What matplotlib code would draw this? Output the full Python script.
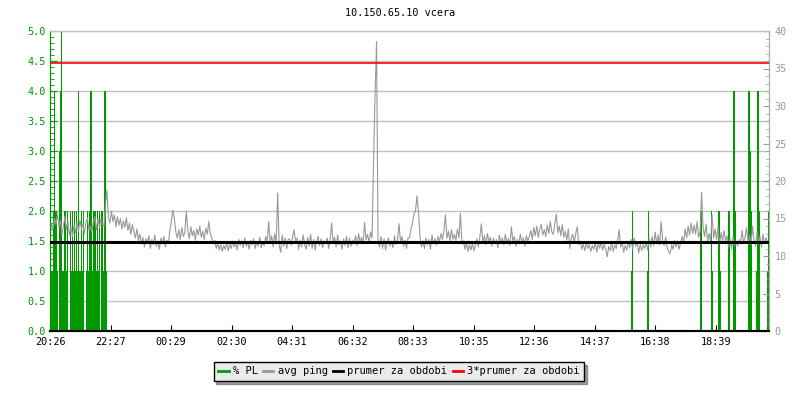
import numpy as np
import matplotlib
matplotlib.use("Agg")
import matplotlib.pyplot as plt
from matplotlib.lines import Line2D

plt.rcParams['font.family'] = ['DejaVu Sans Mono']
plt.rcParams['font.size'] = 7.3

## data ##############################################################
title = "10.150.65.10 vcera"

# x axis: minutes since 20:26, one day
tick_labels = ["20:26", "22:27", "00:29", "02:30", "04:31", "06:32",
               "08:33", "10:35", "12:36", "14:37", "16:38", "18:39"]
tick_step = 121.2
day_len = 1440

# avg ping [ms], one sample every 3 minutes
sample_step = 3
ping = [
    # 20:26 - 22:26
    13.0, 14.4, 13.6, 15.0, 14.2, 15.6, 13.9, 14.8, 12.9, 14.1,
    15.3, 13.5, 14.6, 12.8, 13.9, 12.6, 14.0, 13.1, 14.5, 13.3,
    14.8, 13.6, 14.2, 13.0, 14.5, 15.1, 13.4, 14.0, 13.2, 14.7,
    15.2, 13.5, 14.9, 13.8, 15.0, 14.2, 14.0, 16.8, 18.8, 15.2,
    14.4, 16.0, 14.6, 15.5, 13.9, 15.2, 14.1, 15.0, 13.6, 14.7,
    13.8, 15.1, 13.4, 14.4, 12.9, 14.2, 13.3, 12.4, 13.6, 12.1,
    12.9, 11.6, 12.5, 11.2, 12.3, 11.8, 12.7, 11.0, 12.2, 11.5,
    12.8, 11.3, 12.0, 10.9, 12.4, 11.6, 12.6, 11.2, 12.1, 11.7,
    # 00:26 - 02:26
    13.4, 14.6, 16.1, 15.0, 13.2, 12.4, 13.5, 12.2, 13.8, 12.6,
    13.1, 16.0, 13.4, 12.3, 13.9, 12.7, 13.4, 12.1, 13.6, 12.8,
    14.0, 12.5, 13.3, 12.2, 13.7, 12.9, 14.6, 13.0, 12.4, 11.6,
    12.1, 11.0, 11.7, 10.8, 11.5, 10.6, 11.4, 10.9, 11.8, 10.7,
    11.6, 11.0, 12.0, 11.2, 11.7, 10.8, 12.2, 11.4, 12.0, 11.1,
    12.4, 11.3, 11.8, 10.9, 12.1, 11.5, 12.3, 11.0, 11.9, 11.3,
    12.5, 11.1, 11.8, 11.4, 12.6, 11.9, 14.6, 11.8, 12.7, 11.2,
    13.0, 11.6, 18.4, 11.5, 10.5, 12.8, 11.3, 12.4, 11.0, 12.2,
    # 04:26 - 06:26
    12.3, 11.4, 12.6, 13.5, 11.8, 12.4, 10.9, 12.1, 11.2, 12.8,
    11.5, 10.9, 12.5, 11.3, 12.9, 11.0, 12.2, 10.8, 11.9, 12.6,
    11.4, 12.3, 11.1, 12.0, 11.6, 12.4, 11.0, 12.1, 14.4, 11.7,
    12.5, 11.2, 12.8, 11.5, 12.0, 10.9, 12.3, 11.4, 12.6, 11.1,
    12.4, 11.3, 12.1, 11.6, 12.7, 11.4, 13.0, 11.8, 12.5, 11.6,
    14.5, 12.2, 12.9, 11.8, 13.2, 12.4, 22.6, 31.5, 38.6, 11.9,
    11.2, 12.6, 11.0, 12.3, 10.8, 11.9, 12.4, 11.3, 12.0, 11.1,
    12.7, 11.5, 12.2, 14.3, 11.8, 12.6, 11.3, 12.1, 11.0, 12.4,
    # 08:26 - 10:26
    12.4, 13.6, 14.4, 15.6, 16.0, 18.0, 15.9, 12.6, 11.2, 12.0,
    11.0, 12.4, 11.5, 12.2, 10.9, 12.8, 11.6, 12.3, 11.4, 12.6,
    11.9, 13.0, 12.2, 13.4, 15.5, 12.4, 13.3, 12.0, 13.5, 12.2,
    12.9, 12.1, 13.6, 12.4, 15.7, 11.6, 12.0, 10.9, 11.8, 10.6,
    11.5, 10.8, 11.7, 10.7, 11.4, 12.3, 11.2, 12.6, 14.3, 11.8,
    12.7, 11.5, 13.0, 11.9, 12.5, 11.3, 12.4, 11.6, 12.2, 11.1,
    12.8, 11.7, 12.4, 11.5, 12.9, 11.8, 12.3, 11.4, 13.9, 12.0,
    12.6, 11.3, 12.2, 11.6, 12.9, 11.7, 12.4, 11.3, 12.7, 12.0,
    # 12:26 - 14:26
    12.6, 13.4, 12.2, 13.8, 12.7, 14.0, 12.5, 13.6, 14.2, 12.8,
    13.5, 12.6, 14.1, 13.0, 14.6, 13.2, 12.9, 14.3, 15.6, 13.1,
    14.0, 12.7, 14.2, 12.5, 13.3, 12.1, 13.6, 11.0, 12.4, 12.9,
    11.8, 13.0, 13.9, 11.5, 12.0, 10.9, 11.6, 10.7, 11.8, 11.0,
    11.5, 10.6, 11.4, 10.9, 11.8, 10.5, 11.7, 11.0, 11.9, 10.8,
    11.6, 10.9, 9.9, 11.3, 10.7, 11.8, 10.6, 11.5, 11.0, 12.1,
    13.5, 11.2, 11.9, 10.5, 11.4, 10.8, 11.9, 11.1, 12.2, 10.9,
    12.4, 11.3, 11.8, 10.4, 11.6, 10.7, 11.5, 11.0, 11.9, 10.8,
    # 16:26 - 18:26
    12.3, 11.2, 12.6, 11.4, 13.2, 11.6, 12.8, 11.5, 14.6, 12.0,
    11.4, 12.5, 11.1, 10.6, 10.3, 11.5, 10.9, 12.1, 11.2, 12.0,
    10.9, 11.8, 12.6, 11.7, 13.6, 12.4, 14.0, 12.8, 14.4, 13.0,
    14.1, 12.9, 14.6, 12.5, 13.3, 18.5, 13.8, 12.6, 14.2, 12.0,
    13.0, 11.8, 15.5, 12.4, 13.6, 12.2, 14.0, 11.6, 13.1, 12.0,
    13.4, 11.9, 12.7, 11.2, 12.3, 10.9, 12.6, 11.4, 12.0, 11.3,
    12.2, 11.6, 13.4, 11.8, 12.5, 13.8, 11.6, 12.8, 11.5, 14.0,
    12.1, 11.3, 13.2, 11.8, 12.6, 11.2, 12.9, 11.7, 12.4, 11.9,
]
ping_mean = 11.9

# % PL: stretches of loss (start minute, length, value)
pl_run_start = [3, 19, 41, 73, 107, 1164, 1196, 1302, 1324, 1337, 1359, 1398, 1414, 1436]
pl_run_len = [13, 16, 26, 26, 7, 3, 3, 4, 3, 6, 3, 8, 7, 3]
pl_run_val = [1, 1, 1, 1, 1, 1, 1, 2, 1, 1, 1, 2, 1, 1]
# single samples with higher loss (minute, value)
pl_peak_t = [7, 9, 12, 19, 20, 21, 23, 30, 35, 41, 45, 49, 53, 57, 63, 67, 75, 79,
             82, 87, 90, 95, 99, 104, 110,
             1166, 1198, 1325, 1340, 1360, 1370, 1372, 1400, 1402, 1403, 1418, 1420, 1439]
pl_peak_val = [2, 4, 2, 3, 3, 4, 5, 2, 2, 2, 2, 2, 2, 4, 2, 2, 2, 2,
               4, 2, 2, 2, 2, 2, 4,
               2, 2, 2, 2, 2, 4, 2, 4, 3, 3, 4, 2, 2]

## plot ##############################################################
green = '#009900'
gray = '#999999'

fig = plt.figure(figsize=(8, 4), dpi=100)
ax = fig.add_axes([50 / 800, 1 - 331 / 400, 719 / 800, 300 / 400])
ax2 = ax.twinx()

ax.bar(pl_run_start, pl_run_val, width=pl_run_len, align='edge', color=green,
       linewidth=0, antialiased=False, zorder=2)
ax.bar(pl_peak_t, pl_peak_val, width=2.4, align='center', color=green,
       linewidth=0, antialiased=False, zorder=2)

t = np.arange(len(ping)) * sample_step
ax2.plot(t, ping, color=gray, lw=0.8, zorder=2)
ax2.axhline(ping_mean, color='black', lw=2.16, snap=True, zorder=3)
ax2.axhline(3 * ping_mean, color='#ff0000', lw=1.2, snap=True, zorder=3)

ax.set_xlim(0, day_len)
ax.set_ylim(0, 5)
ax2.set_ylim(0, 40)

ax.set_yticks(np.arange(0, 5.01, 0.5))
ax.set_yticklabels(["%.1f" % v for v in np.arange(0, 5.01, 0.5)])
ax.set_yticks(np.arange(0, 5.01, 0.1), minor=True)
ax2.set_yticks(np.arange(0, 41, 5))
ax2.set_yticks(np.arange(0, 41, 1), minor=True)
ax.set_xticks(np.arange(len(tick_labels)) * tick_step)
ax.set_xticklabels(tick_labels)

ax.grid(axis='y', color='#c0c0c0', lw=1.0)
ax.set_axisbelow(True)

ax.tick_params(axis='y', which='major', direction='in', length=5, colors=green, pad=3)
ax.tick_params(axis='y', which='minor', direction='in', length=3, color=green)
ax.tick_params(axis='x', direction='in', length=4, colors='black', pad=4)
ax2.tick_params(axis='y', which='major', direction='in', length=4, colors='#999999', pad=4)
ax2.tick_params(axis='y', which='minor', direction='in', length=2, color='#999999')

for a in (ax, ax2):
    a.spines['left'].set_color(green)
    a.spines['right'].set_color('#aaaaaa')
    a.spines['top'].set_color('#c0c0c0')
    a.spines['bottom'].set_color('black')
    a.spines['bottom'].set_linewidth(1.5)

fig.text(0.5, 1 - 13 / 400, title, ha='center', va='center', fontsize=7.3)

handles = [Line2D([], [], color=green, lw=2),
           Line2D([], [], color=gray, lw=2),
           Line2D([], [], color='black', lw=2),
           Line2D([], [], color='#ff0000', lw=2)]
names = ["% PL", "avg ping", "prumer za obdobi", "3*prumer za obdobi"]
leg = fig.legend(handles, names, loc='center', bbox_to_anchor=(399 / 800, 1 - 371.5 / 400),
                 ncol=4, frameon=True, fancybox=False, shadow=True, edgecolor='black',
                 facecolor='#ebebeb', handlelength=1.0, handletextpad=0.4,
                 columnspacing=0.5, borderpad=0.45, fontsize=7.5)
leg.get_frame().set_linewidth(1.0)
leg.get_frame().set_alpha(1)

fig.savefig("out.png", dpi=100)
